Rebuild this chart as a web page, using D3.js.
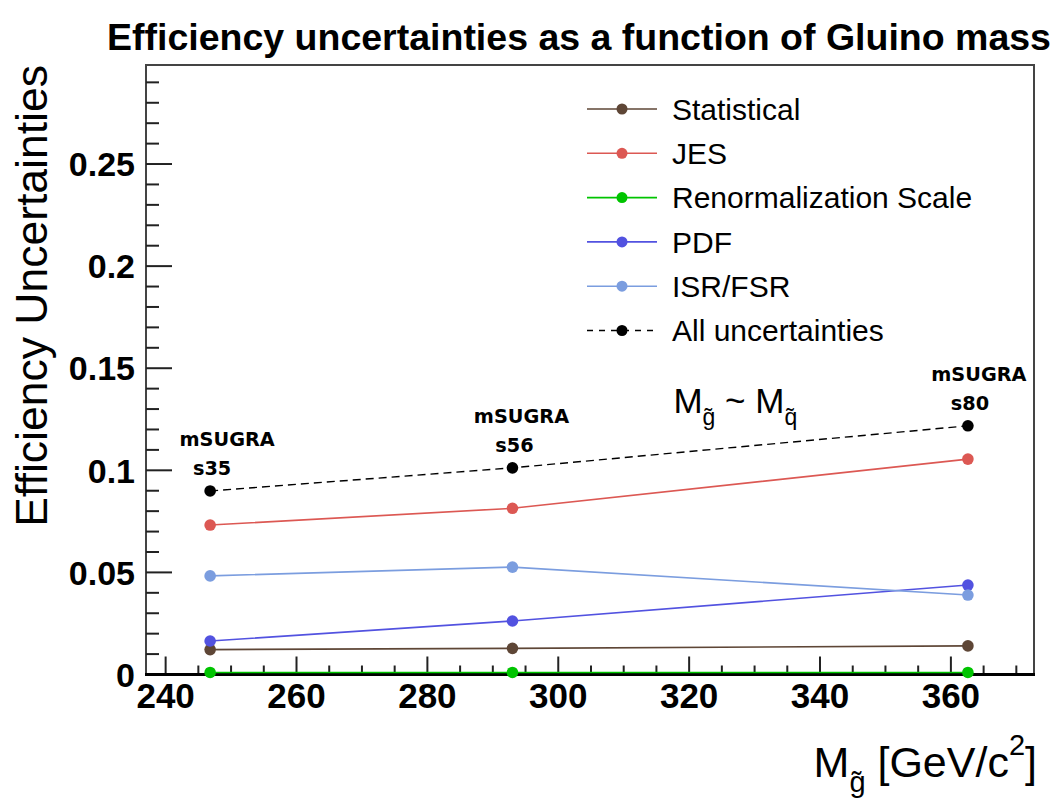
<!DOCTYPE html>
<html>
<head>
<meta charset="utf-8">
<script src="https://cdn.jsdelivr.net/npm/d3@7"></script>
<style>
  html, body { margin: 0; padding: 0; background: #fff; }
  svg { display: block; }
  text { font-family: "Liberation Sans", Arial, sans-serif; }
</style>
</head>
<body>
<svg id="chart" width="1056" height="798"></svg>
<script>
// Gluino masses of the three mSUGRA benchmark points [GeV/c^2]
const gluinoMass = [246.8, 293.0, 362.6];
const pointNames = ["s35", "s56", "s80"];

// Relative efficiency uncertainties per source
const statistical = [0.0122, 0.0128, 0.0140];
const jes         = [0.0732, 0.0814, 0.1055];
const renormScale = [0.0010, 0.0010, 0.0010];
const pdf         = [0.0164, 0.0262, 0.0438];
const isrFsr      = [0.0483, 0.0526, 0.0389];
const allUnc      = [0.0899, 0.1012, 0.1218];

const seriesNames  = ["Statistical", "JES", "Renormalization Scale", "PDF", "ISR/FSR", "All uncertainties"];
const seriesValues = [statistical, jes, renormScale, pdf, isrFsr, allUnc];
const seriesColors = ["#5e4636", "#dc5853", "#00c400", "#5252e0", "#7b9ddf", "#000000"];
const seriesDashed = [false, false, false, false, false, true];

const yMajorTicks = [0, 0.05, 0.1, 0.15, 0.2, 0.25];
const yTickLabels = ["0", "0.05", "0.1", "0.15", "0.2", "0.25"];
const xMajorTicks = [240, 260, 280, 300, 320, 340, 360];
const xTickLabels = ["240", "260", "280", "300", "320", "340", "360"];

const svg = d3.select("#chart");
const frame = { left: 146, right: 1034, top: 65, bottom: 674.5 };

const x = d3.scaleLinear().domain([237.0, 372.7]).range([frame.left, frame.right]);
const y = d3.scaleLinear().domain([0, 0.2985]).range([frame.bottom, frame.top]);

// Title
svg.append("text")
  .attr("x", 579).attr("y", 50)
  .attr("text-anchor", "middle")
  .style("font-weight", "bold").style("font-size", "37.5px")
  .text("Efficiency uncertainties as a function of Gluino mass");

// Frame
svg.append("rect")
  .attr("x", frame.left).attr("y", frame.top)
  .attr("width", frame.right - frame.left).attr("height", frame.bottom - frame.top)
  .attr("fill", "none").attr("stroke", "#444").attr("stroke-width", 2);

// Y ticks (inside the frame, left side)
const yMinor = d3.range(0, 0.2951, 0.01);
svg.append("g").selectAll("line").data(yMinor).join("line")
  .attr("x1", frame.left).attr("x2", d => frame.left + (Math.abs(d / 0.05 - Math.round(d / 0.05)) < 1e-6 ? 26 : 13))
  .attr("y1", d => y(d)).attr("y2", d => y(d))
  .attr("stroke", "#222").attr("stroke-width", 2);

svg.append("g").selectAll("text").data(yMajorTicks).join("text")
  .attr("x", 135).attr("y", d => y(d))
  .attr("dy", "0.36em")
  .attr("text-anchor", "end")
  .style("font-weight", "bold").style("font-size", "34px")
  .text((d, i) => yTickLabels[i]);

// X ticks (inside the frame, bottom side)
const xMinor = d3.range(240, 372, 5);
svg.append("g").selectAll("line").data(xMinor).join("line")
  .attr("x1", d => x(d)).attr("x2", d => x(d))
  .attr("y1", frame.bottom).attr("y2", d => frame.bottom - (d % 20 === 0 ? 18 : 9))
  .attr("stroke", "#222").attr("stroke-width", 2);

svg.append("g").selectAll("text").data(xMajorTicks).join("text")
  .attr("x", d => x(d)).attr("y", 708)
  .attr("text-anchor", "middle")
  .style("font-weight", "bold").style("font-size", "35px")
  .text((d, i) => xTickLabels[i]);

// Bottom axis line
svg.append("line")
  .attr("x1", frame.left - 1).attr("x2", frame.right + 1)
  .attr("y1", frame.bottom).attr("y2", frame.bottom)
  .attr("stroke", "#000").attr("stroke-width", 3);

// Y axis title
svg.append("text")
  .attr("transform", `translate(47,${frame.top}) rotate(-90)`)
  .attr("text-anchor", "end")
  .style("font-size", "44.5px")
  .text("Efficiency Uncertainties");

// X axis title: M_{#tilde{g}} [GeV/c^{2}]
const xTitle = svg.append("text")
  .attr("x", 1037).attr("y", 777)
  .attr("text-anchor", "end")
  .style("font-size", "43px");
xTitle.append("tspan").text("M");
xTitle.append("tspan").attr("dy", 15).style("font-size", "29px").text("g\u0303");
xTitle.append("tspan").attr("dy", -15).text(" [GeV/c");
xTitle.append("tspan").attr("dy", -22).style("font-size", "29px").text("2");
xTitle.append("tspan").attr("dy", 22).text("]");

// Series lines and markers
const line = d3.line().x((d, i) => x(gluinoMass[i])).y(d => y(d));

seriesValues.forEach((vals, s) => {
  svg.append("path")
    .datum(vals)
    .attr("d", line)
    .attr("fill", "none")
    .attr("stroke", seriesColors[s])
    .attr("stroke-width", s === 5 ? 1.4 : 1.6)
    .attr("stroke-dasharray", seriesDashed[s] ? "8,5" : null);
});
seriesValues.forEach((vals, s) => {
  svg.append("g").selectAll("circle").data(vals).join("circle")
    .attr("cx", (d, i) => x(gluinoMass[i]))
    .attr("cy", d => y(d))
    .attr("r", 5.8)
    .attr("fill", seriesColors[s]);
});

// Benchmark point labels above the total uncertainty markers
const labelShift = [17, 9, 11];
pointNames.forEach((name, i) => {
  const px = x(gluinoMass[i]), py = y(allUnc[i]);
  svg.append("text")
    .attr("x", px + labelShift[i]).attr("y", py - 45)
    .attr("text-anchor", "middle")
    .style("font-family", "'DejaVu Sans', Verdana, sans-serif")
    .style("font-weight", "bold").style("font-size", "19.3px")
    .text("mSUGRA");
  svg.append("text")
    .attr("x", px + 2).attr("y", py - 16)
    .attr("text-anchor", "middle")
    .style("font-family", "'DejaVu Sans', Verdana, sans-serif")
    .style("font-weight", "bold").style("font-size", "19.3px")
    .text(name);
});

// Mass relation annotation: M_{#tilde{g}} ~ M_{#tilde{q}}
const rel = svg.append("text")
  .attr("x", x(317.6)).attr("y", y(0.128))
  .style("font-size", "35px");
rel.append("tspan").text("M");
rel.append("tspan").attr("dy", 12).style("font-size", "23px").text("g\u0303");
rel.append("tspan").attr("dy", -12).text(" ~ M");
rel.append("tspan").attr("dy", 12).style("font-size", "23px").text("q\u0303");

// Legend
const legendX = 587, legendTop = 109, legendStep = 44.3;
seriesNames.forEach((name, s) => {
  const ly = legendTop + s * legendStep;
  svg.append("line")
    .attr("x1", legendX).attr("x2", legendX + 70)
    .attr("y1", ly).attr("y2", ly)
    .attr("stroke", seriesColors[s])
    .attr("stroke-width", 1.6)
    .attr("stroke-dasharray", seriesDashed[s] ? "6,6" : null);
  svg.append("circle")
    .attr("cx", legendX + 35).attr("cy", ly).attr("r", 5.5)
    .attr("fill", seriesColors[s]);
  svg.append("text")
    .attr("x", legendX + 85).attr("y", ly)
    .attr("dy", "0.36em")
    .style("font-size", "30px")
    .text(name);
});
</script>
</body>
</html>
